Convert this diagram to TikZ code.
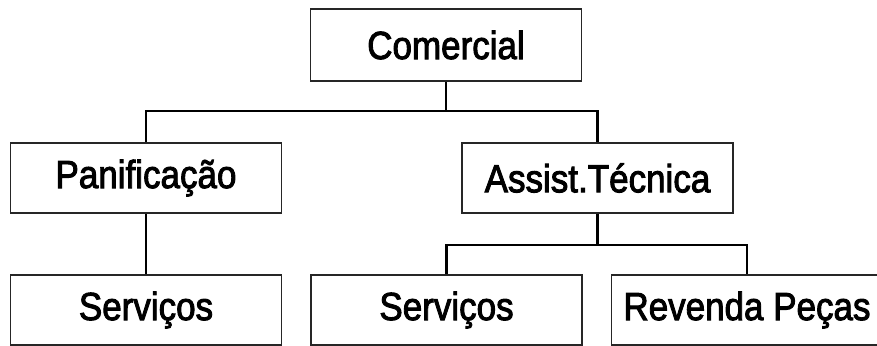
\documentclass[tikz,border=0pt]{standalone}
\usepackage{fontspec}
\setmainfont{Liberation Sans}
\newfontfamily\boxfont[FakeBold=2.5]{Liberation Sans}
\newcommand{\boxtext}[1]{\scalebox{1.0}[1.12]{#1}}
\begin{document}
\begin{tikzpicture}[x=1pt,y=1pt,
  orgbox/.style={draw=black!85,line width=1.6pt,minimum width=271pt,minimum height=70pt,inner sep=0pt,
    font=\boxfont\fontsize{35}{40}\selectfont},
  link/.style={draw=black,line width=2.4pt}]
\useasboundingbox (0,0) rectangle (877,-345);
\node[orgbox,minimum height=72pt] (com) at (446,-45) {\boxtext{Comercial}};
\node[orgbox] (pan) at (146,-178) {\boxtext{Panificação}};
\node[orgbox] (ast) at (597.5,-178) {\boxtext{Assist.Técnica}};
\node[orgbox] (s1) at (146,-310) {\boxtext{Serviços}};
\node[orgbox] (s2) at (446.5,-310) {\boxtext{Serviços}};
\node[orgbox] (rp) at (747,-310) {\boxtext{Revenda Peças}};
\coordinate (j1) at (446,-111);
\coordinate (j2) at (597.5,-245);
\draw[link] (com.south) -- (j1);
\draw[link] (pan.north) |- (j1) -| (ast.north);
\draw[link] (pan.south) -- (s1.north);
\draw[link] (ast.south) -- (j2);
\draw[link] (s2.north) |- (j2) -| (rp.north);
\end{tikzpicture}
\end{document}
